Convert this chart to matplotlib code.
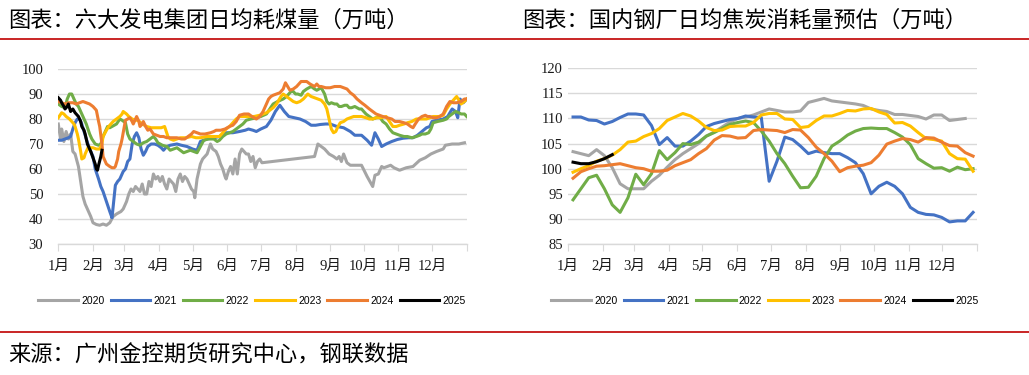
import matplotlib
matplotlib.use('Agg')
import matplotlib.pyplot as plt
from matplotlib.lines import Line2D

# ---- data: left chart, daily coal burn of six power groups (day of year, 万吨)
coal_2020 = [(0,78),(2,72),(3,76),(5,71),(7,75),(9,72),(11,74),(13,67),(15,66),(18,61),(20,55),(22,49),(24,46),(27,43),(29,41),(31,38.5),(34,37.8),(37,37.5),(40,38),(43,37.5),(46,38.5),(49,41),(52,42),(56,43),(58,44),(61,47),(63,50),(65,52),(67,51),(69,53),(71,52),(73,51),(75,54),(77,50),(79,50),(81,55),(83,53),(85,58),(87,56),(89,57),(91,55),(93,57),(95,54),(97,52),(99,56),(101,55),(103,54),(105,51),(107,56),(109,58),(111,55),(113,57),(115,56),(117,54),(119,52),(121,51),(122,48.5),(124,56),(127,62),(129,64),(131,65),(133,66),(136,70),(138,68),(141,67),(143,65),(145,62),(147,60),(149,57),(150,56),(152,59),(154,61),(156,58),(158,64),(160,58),(162,66),(164,68),(166,67),(168,66),(170,66),(172,63),(174,65),(176,60.5),(178,63),(180,64),(182,62.5),(229,65),(232,70),(235,69),(238,68),(242,66),(246,65),(249,64),(251,65),(253,63),(255,66),(258,62.5),(261,61.5),(266,61.5),(271,61.5),(276,57),(281,53),(283,57.5),(286,58),(289,61),(291,60.5),(294,61),(297,61.5),(300,60.5),(305,59.5),(311,60.5),(317,61),(323,63.5),(328,64.5),(333,66),(338,67),(341,67.5),(344,68),(346,69.5),(352,70),(358,70),(363,70.5)]
coal_2021 = [(0,71.5),(3,71.5),(6,72),(9,72.5),(11,73),(13,76),(15,78.5),(17,80),(19,80),(21,78),(23,75),(25,72),(28,68),(31,65),(33,60),(36,56),(38,53),(40,51),(43,47),(46,43),(48,40.5),(51,53.5),(53,55),(55,56),(58,59),(60,60),(62,63),(64,64),(66,70),(68,73),(70,74.5),(72,72.5),(74,68),(76,65.5),(78,67),(80,69),(83,70),(86,70),(89,69.5),(92,68.5),(94,67.5),(97,69),(100,69.5),(106,70),(110,69.5),(115,69),(120,68),(124,67.5),(127,71),(133,72),(139,72.5),(144,73),(150,74.5),(156,74.5),(162,75),(167,75.5),(170,76),(174,75.5),(177,75),(181,76),(186,77),(190,79.5),(194,83),(198,85.5),(202,83),(206,81),(211,80.5),(216,80),(221,79),(226,77.5),(230,77.5),(234,77.8),(239,78),(243,78),(249,77),(255,76.5),(261,75),(265,73.5),(271,73.5),(276,71.5),(280,69.5),(283,74.5),(286,72),(289,69),(293,70),(298,71),(303,71.8),(308,72.3),(313,72.5),(317,72.5),(321,73.5),(325,75),(329,76.5),(332,77),(334,79),(338,79.5),(344,80),(348,81),(352,84),(355,83),(357,80.5),(359,88),(362,86.5),(365,88)]
coal_2022 = [(0,86),(3,85),(6,84.5),(8,88),(10,90),(12,90),(14,88),(16,86),(18,85),(21,82),(23,80),(25,78),(28,74),(30,72),(33,70),(36,69.5),(38,70),(40,73),(42,75),(44,77),(46,76.5),(48,77),(50,77.5),(52,78),(55,80),(57,79.5),(60,78.5),(62,74),(64,72),(67,71),(70,70),(73,69.5),(76,70.5),(79,71),(82,72),(85,73),(87,72),(89,70.5),(93,69.5),(97,69),(100,67.5),(103,68),(106,68.5),(109,67.5),(112,66.5),(115,67),(118,67.5),(121,67),(124,66.5),(127,69),(130,71.5),(134,72),(139,72),(142,71),(144,71.5),(147,73),(150,74),(153,74.5),(156,75),(159,76),(162,77),(165,78),(168,79.5),(172,80),(177,80.5),(181,81),(186,82),(189,84),(192,86),(196,87),(201,88),(204,89),(206,90),(208,91),(210,91),(212,90),(214,90),(217,89.5),(219,91),(222,92),(224,92.5),(226,93),(229,92),(231,91.5),(233,92),(235,92.5),(238,90),(240,87),(242,86),(244,86.5),(247,86),(249,86),(251,85),(253,85),(256,85.5),(258,85.5),(260,84.5),(262,84.5),(265,85),(267,84.5),(269,84),(271,84),(273,83),(275,82),(278,81),(281,80),(284,80.5),(287,81),(290,79),(293,78),(296,76),(299,74.5),(302,74),(305,73.5),(309,73),(312,73),(316,72.5),(320,73),(323,73.5),(325,74),(328,74),(331,74.5),(333,76),(335,78.5),(339,79),(344,79.5),(347,80),(349,81),(352,82),(355,83),(358,82.5),(360,82),(363,82),(365,81)]
coal_2023 = [(0,80.5),(3,82.5),(5,82),(7,81),(10,80),(12,79),(14,78),(15,77),(17,74),(18,72),(20,67),(21,64),(23,64.5),(24,66),(26,68),(27,69),(29,68.5),(31,68.5),(34,68),(37,68),(39,70),(40,73),(43,75.5),(45,77),(47,78),(49,79),(52,80),(55,81),(57,82),(58,83),(61,82),(63,81),(66,80),(69,79.5),(71,79.5),(75,78),(79,77),(83,76.5),(88,76.5),(92,76.5),(95,77),(98,73),(100,72),(103,71.5),(106,72),(109,72.5),(114,72.5),(119,73),(123,72.5),(127,72.5),(133,73),(138,73),(144,73),(147,74.5),(150,76),(153,77),(156,78.5),(159,80),(162,81),(167,81),(171,81),(175,81),(180,81.5),(183,82),(186,82.5),(189,83.5),(192,84.5),(195,86),(197,87.5),(199,89),(201,90),(204,89),(207,88),(210,87),(213,86.5),(216,87),(219,88),(221,89),(223,90),(226,89),(229,88.5),(232,88),(235,87.5),(238,86),(240,84),(242,80),(244,76),(246,74.5),(248,75),(250,77),(252,78.5),(255,79),(258,80),(261,80.5),(264,81),(267,81),(271,81),(275,80.5),(278,80),(281,80),(284,80.5),(288,80.5),(293,81),(296,79),(299,77),(302,77),(305,77.5),(309,78),(312,78.5),(316,79),(320,80),(325,80),(329,80),(332,80.5),(335,81),(340,81),(344,81.5),(347,84),(350,86),(353,87.5),(356,89),(358,87.5),(360,86),(363,87),(365,88)]
coal_2024 = [(0,87),(3,86.5),(6,86),(9,86.5),(13,86.5),(16,86),(19,86.5),(22,87),(25,86.5),(28,86),(31,85),(33,84),(34,83.5),(36,79),(37,77),(39,70),(40,65),(42,63),(43,62),(46,61),(48,60.5),(50,60.5),(51,61),(53,64),(54,67),(56,70),(57,72),(59,77),(60,79.5),(62,80),(64,80.5),(66,79),(67,78),(69,80),(70,81),(72,79),(73,77),(75,78),(76,79),(78,77),(80,75.5),(82,76),(85,74),(88,73.5),(91,73),(94,73),(97,72.5),(102,72.5),(106,72.5),(110,72),(113,72),(116,73),(119,74),(121,75),(124,74.5),(127,74),(131,74),(136,74.5),(139,75),(141,75.5),(145,75.5),(149,76),(153,77),(156,77.5),(159,79),(162,81.5),(166,82),(170,82),(173,81),(177,80),(180,81),(183,83),(186,86),(188,88),(190,89),(192,89.5),(195,90),(198,90.5),(201,92),(203,94.5),(205,93),(207,91.5),(210,92),(213,93),(215,94),(217,95),(220,95),(222,95),(225,94),(229,93),(231,94),(233,93),(235,93),(239,92.5),(243,92.5),(247,93),(252,93),(255,92.5),(258,92),(261,90.5),(264,89.5),(267,88),(271,86.5),(274,85.5),(278,84),(281,83),(284,82),(287,81.5),(290,81),(294,80.5),(298,80),(301,79),(305,79),(309,78.5),(312,78),(315,77),(317,76.5),(319,78),(322,80),(325,81),(328,81.5),(330,81),(332,81),(335,80.5),(338,80.5),(341,81),(344,82),(347,85),(350,87),(353,86.5),(356,86.5),(360,87),(363,88),(365,88)]
coal_2025 = [(0,88.5),(2,87.5),(3,86.5),(5,85),(6,84),(8,85),(9,86),(11,83),(13,84),(15,82.5),(18,81),(20,79),(21,77),(23,75.5),(24,74),(26,70),(28,68),(29,67),(31,64.5),(33,62),(34,60),(35,59.5),(36,61.5),(38,65),(39,67.5)]

# ---- data: right chart, weekly coke consumption estimate (万吨), week k -> day 4.5 + 7k
coke_2020 = [103.4,103,102.6,103.8,102.6,100.2,97,96,96,96,97.5,98.7,100.3,101.8,103,104,105,106.5,107.3,108.3,109.3,110,110.3,110.7,111.3,111.9,111.6,111.3,111.3,111.5,113.2,113.6,114,113.5,113.3,113.1,112.9,112.6,111.9,111.6,111.4,110.8,110.8,110.6,110.4,109.9,110.7,110.7,109.6,109.8,110.0]
coke_2021 = [110.3,110.3,109.7,109.6,108.9,109.4,110.2,110.9,110.9,110.7,108.6,104.8,106.2,104.5,104.5,105.5,106.8,108.4,109,109.4,109.8,110,110.5,110.3,110.2,97.5,101.5,106.3,105.8,104.5,103,103.5,103.2,103,103,102.2,101.2,99,95,96.5,97.3,96.5,95,92.3,91.3,90.9,90.8,90.3,89.4,89.6,89.6,91.3]
coke_2022 = [93.8,96,98.2,98.7,96,92.8,91.3,94.2,98.9,96.8,99,103.6,101.8,103.2,105,104.8,105.3,106.5,107.2,108,108.8,109.2,109.5,109.2,107.5,105.5,103,101,98.5,96.2,96.3,98.5,102,104.5,105.5,106.7,107.5,108,108.1,108,108,107.2,106.3,104.8,102,101,100.1,100.2,99.5,100.3,99.8,100]
coke_2023 = [99.3,100,100.6,101.5,102,102.7,103.8,105.3,105.5,106.4,107,108,109.6,110.3,111,110.5,109.5,108.2,107.6,107.7,108.4,108.5,108.5,109.2,110.7,111,111,109.9,109.8,108.2,108.4,109.6,110.5,110.5,111,111.6,111.5,111.9,112,111.3,110.8,109.1,109.2,108.5,107.2,106,105.8,105.5,103,102,101.9,99.5]
coke_2024 = [98.1,99.4,100,100.5,100.6,100.8,101,100.6,100.2,100,99.5,99.5,99.7,100.6,101.2,101.8,103,104,105.7,106.6,106.5,106.1,106.2,107.6,107.8,107.7,107.6,107.2,107.8,107.7,106.2,104.3,103,101.5,99.4,100.2,100.5,100.7,101.2,102.7,104.9,105.5,106,105.8,105.3,106.2,106.1,105.3,104.6,104.5,103.2,102.5]
coke_2025 = [101.3,101,101,101.4,102,102.8]

years = ['2020', '2021', '2022', '2023', '2024', '2025']
colors = ['#A5A5A5', '#4472C4', '#70AD47', '#FFC000', '#ED7D31', '#000000']
month_days = [0, 31, 59, 90, 120, 151, 181, 212, 243, 273, 304, 334, 365]
month_labels = ['1月', '2月', '3月', '4月', '5月', '6月', '7月', '8月', '9月', '10月', '11月', '12月']

W, H = 1029, 375
fig = plt.figure(figsize=(W / 100, H / 100), dpi=100)

cjk = ['Noto Sans CJK SC', 'DejaVu Sans']
tickfont = ['Liberation Serif', 'Noto Sans CJK SC']


def style_axes(ax, ylim, yticks, ypad):
    ax.set_xlim(0, 365)
    ax.set_ylim(*ylim)
    ax.set_yticks(yticks)
    ax.set_xticks(month_days)
    ax.set_xticklabels(month_labels + [''])
    for s in ['top', 'right', 'left']:
        ax.spines[s].set_visible(False)
    ax.spines['bottom'].set_color('#D9D9D9')
    ax.spines['bottom'].set_linewidth(1)
    ax.grid(axis='y', color='#D9D9D9', lw=1)
    ax.set_axisbelow(True)
    ax.tick_params(axis='x', length=5, color='#D9D9D9', pad=6.5)
    ax.tick_params(axis='y', length=0, pad=ypad)
    for lab in ax.get_xticklabels() + ax.get_yticklabels():
        lab.set_family(tickfont)
        lab.set_fontsize(10.5)
        lab.set_color('#1a1a1a')


def add_legend(ax, cx):
    ax.legend(loc='center', bbox_to_anchor=(cx / W, 1 - 300.7 / H), bbox_transform=fig.transFigure,
              ncol=6, frameon=False, handlelength=3.8, handletextpad=0.3, columnspacing=0.6,
              prop={'family': 'Liberation Sans', 'size': 7.5})


# left chart
ax1 = fig.add_axes([58.3 / W, 1 - 244 / H, (466.7 - 58.3) / W, (244 - 69) / H])
for name, series, c in zip(years, [coal_2020, coal_2021, coal_2022, coal_2023, coal_2024, coal_2025], colors):
    d = [p[0] for p in series]
    v = [p[1] for p in series]
    ax1.plot(d, v, color=c, lw=2.2, label=name, solid_joinstyle='round')
style_axes(ax1, (30, 100), range(30, 101, 10), 10.8)
add_legend(ax1, 252)

# right chart
ax2 = fig.add_axes([568 / W, 1 - 244 / H, 409 / W, (244 - 68.3) / H])
for name, series, c in zip(years, [coke_2020, coke_2021, coke_2022, coke_2023, coke_2024, coke_2025], colors):
    d = [4.5 + 7 * k for k in range(len(series))]
    ax2.plot(d, series, color=c, lw=2.2, label=name, solid_joinstyle='round')
style_axes(ax2, (85, 120), range(85, 121, 5), 3.6)
add_legend(ax2, 765)

# titles, rules, source
fig.text(8 / W, 1 - 20 / H, '图表：六大发电集团日均耗煤量（万吨）', fontsize=16, va='center', family=cjk)
fig.text(522 / W, 1 - 20 / H, '图表：国内钢厂日均焦炭消耗量预估（万吨）', fontsize=16, va='center', family=cjk)
fig.add_artist(Line2D([0, 1], [1 - 39 / H] * 2, color='#C00000', lw=1.2, transform=fig.transFigure))
fig.add_artist(Line2D([0, 1], [1 - 332 / H] * 2, color='#C00000', lw=1.2, transform=fig.transFigure))
fig.text(8 / W, 1 - 355 / H, '来源：广州金控期货研究中心，钢联数据', fontsize=16, va='center', family=cjk)

fig.savefig('out.png', dpi=100)
